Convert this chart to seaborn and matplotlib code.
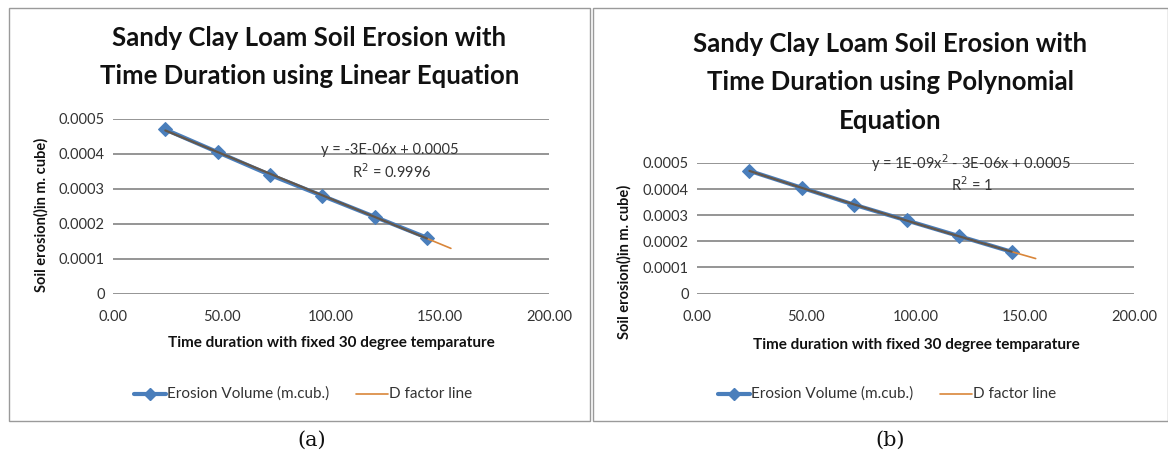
import numpy as np
import pandas as pd
import matplotlib
matplotlib.use("Agg")
import matplotlib.pyplot as plt
from matplotlib.patches import Rectangle
from matplotlib.lines import Line2D
import seaborn as sns

# ---- data ----
time_hours = [24, 48, 72, 96, 120, 144]
erosion_volume = [0.00047, 0.000405, 0.00034, 0.00028, 0.00022, 0.00016]
x_ticks = [0, 50, 100, 150, 200]
y_ticks = [0, 0.0001, 0.0002, 0.0003, 0.0004, 0.0005]
y_tick_labels = ["0", "0.0001", "0.0002", "0.0003", "0.0004", "0.0005"]
titles = ["Sandy Clay Loam Soil Erosion with\nTime Duration using Linear Equation",
          "Sandy Clay Loam Soil Erosion with\nTime Duration using Polynomial\nEquation"]
equations = ["y = -3E-06x + 0.0005", "y = 1E-09x$^2$ - 3E-06x + 0.0005"]
r_squared = ["R$^2$ = 0.9996", "R$^2$ = 1"]
fit_degrees = [1, 2]
panel_labels = ["(a)", "(b)"]
series_name = "Erosion Volume (m.cub.)"
trend_name = "D factor line"
x_label = "Time duration with fixed 30 degree temparature"
y_label = "Soil erosion()in m. cube)"
forecast_end = 155

sns.set_theme(style="white")
plt.rcParams['font.family'] = ['Lato', 'DejaVu Sans']

W, H = 1168, 454
fig = plt.figure(figsize=(W / 100, H / 100), dpi=100)

BLUE = "#4a7ebb"
ORANGE = "#d9863a"
GRID = "#8c8c8c"

def fx(px):
    return px / W

def fy(py):
    return 1 - py / H

panels = [
    dict(frame=(9, 590, 8, 421), ax=(113, 549, 119, 293.6), title_y=38, eq=(390, 150), r2=(392, 172),
         ylab=(41, 215), xlab=(331, 343), leg_y=394, leg_x=(134, 356), lab=(312, 440)),
    dict(frame=(593, 1168, 8, 421), ax=(697, 1134, 163, 293.6), title_y=44, eq=(971, 163), r2=(972, 185),
         ylab=(624, 262), xlab=(916, 345), leg_y=394, leg_x=(718, 940), lab=(890, 440)),
]

df = pd.DataFrame({"time": time_hours, "erosion": erosion_volume})

for i, p in enumerate(panels):
    l, r, t, b = p["frame"]
    fig.patches.append(Rectangle((fx(l), fy(b)), fx(r - l), (b - t) / H,
                                 transform=fig.transFigure, fill=False,
                                 edgecolor="#9a9a9a", linewidth=1.0))
    al, ar, at, ab = p["ax"]
    ax = fig.add_axes([fx(al), fy(ab), fx(ar - al), (ab - at) / H])
    ax.set_xlim(0, 200)
    ax.set_ylim(0, 0.0005)
    ax.set_yticks(y_ticks)
    ax.set_yticklabels(y_tick_labels)
    ax.set_xticks(x_ticks)
    ax.set_xticklabels([f"{v:.2f}" for v in x_ticks])
    for s in ax.spines.values():
        s.set_visible(False)
    ax.yaxis.grid(True, color=GRID, linewidth=1.3)
    ax.set_axisbelow(True)
    ax.tick_params(axis="x", pad=12, labelsize=10.5, colors="#333333", length=0)
    ax.tick_params(axis="y", pad=6, labelsize=10.5, colors="#333333", length=0)

    sns.lineplot(data=df, x="time", y="erosion", ax=ax, color=BLUE, linewidth=3.0,
                 marker="D", markersize=7, markeredgecolor=BLUE, legend=False)
    coeffs = np.polyfit(time_hours, erosion_volume, fit_degrees[i])
    xs = np.linspace(time_hours[0], forecast_end, 100)
    ax.plot(xs, np.polyval(coeffs, xs), color=ORANGE, linewidth=1.2)
    xs2 = np.linspace(time_hours[0], time_hours[-1], 100)
    ax.plot(xs2, np.polyval(coeffs, xs2), color="#4f4f4f", linewidth=1.6, alpha=0.85)

    ax.set_xlabel("")
    ax.set_ylabel("")
    ex, ey = p["eq"]
    fig.text(fx(ex), fy(ey), equations[i], ha="center", va="center", fontsize=10.5,
             color="#333333")
    rx, ry = p["r2"]
    fig.text(fx(rx), fy(ry), r_squared[i], ha="center", va="center", fontsize=10.5,
             color="#333333")

    for k, line in enumerate(titles[i].split("\n")):
        fig.text(fx((l + r) / 2 + 10), fy(p["title_y"] + k * 38.5), line, ha="center",
                 va="center", fontsize=18.5, fontweight="bold", color="#111111")
    yx, yy = p["ylab"]
    fig.text(fx(yx), fy(yy), y_label, rotation=90, ha="center",
             va="center", fontsize=10.5, fontweight="bold", color="#111111")
    xx, xy = p["xlab"]
    fig.text(fx(xx), fy(xy), x_label, ha="center", va="center",
             fontsize=11, fontweight="bold", color="#111111")

    # legend
    lx1, lx2 = p["leg_x"]
    ly = fy(p["leg_y"])
    fig.lines.append(Line2D([fx(lx1), fx(lx1 + 16), fx(lx1 + 32)], [ly, ly, ly],
                            transform=fig.transFigure, color=BLUE, linewidth=3.0,
                            marker="D", markersize=6, markevery=[1], markeredgecolor=BLUE))
    fig.text(fx(lx1 + 33), ly, series_name, ha="left", va="center", fontsize=11, color="#333333")
    fig.lines.append(Line2D([fx(lx2), fx(lx2 + 32)], [ly, ly], transform=fig.transFigure,
                            color=ORANGE, linewidth=1.2))
    fig.text(fx(lx2 + 33), ly, trend_name, ha="left", va="center", fontsize=11, color="#333333")

    lx, lyy = p["lab"]
    fig.text(fx(lx), fy(lyy), panel_labels[i], ha="center", va="center", fontsize=15,
             family=["DejaVu Serif"], color="#111111")

fig.savefig("out.png", dpi=100, facecolor="white")
